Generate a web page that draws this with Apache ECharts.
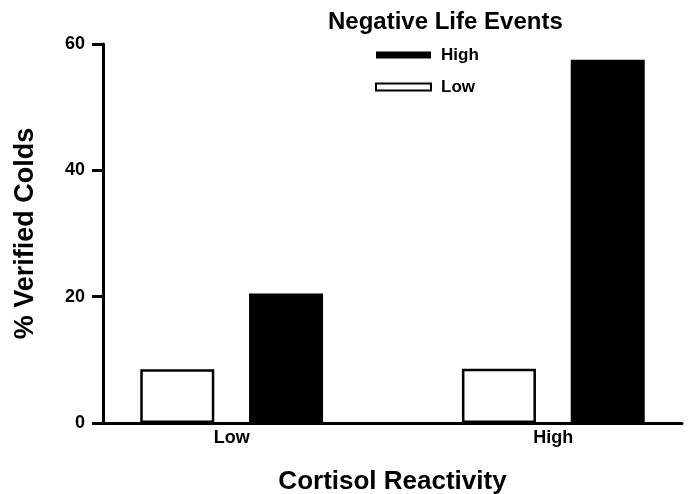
<!DOCTYPE html>
<html>
<head>
<meta charset="utf-8">
<title>Negative Life Events</title>
<script src="https://cdn.jsdelivr.net/npm/echarts@6/dist/echarts.min.js"></script>
<style>
  html, body { margin: 0; padding: 0; background: #fff; }
  #chart { width: 688px; height: 494px; }
</style>
</head>
<body>
<div id="chart"></div>
<script>
// categories sit at x = 1 and x = 2 on a value axis so the bars can be off-centre
const categories = ['Low', 'High']
const categoryPos = [1, 2]
const lowEvents = [8.5, 8.6]
const highEvents = [20.5, 57.5]
const yTicks = [0, 20, 40, 60]

const font = '"Liberation Sans", Arial, Helvetica, sans-serif'
const chart = echarts.init(document.getElementById('chart'))

const toPoints = vals => vals.map((v, i) => [categoryPos[i], v])

chart.setOption({
  animation: false,
  textStyle: { fontFamily: font, color: '#000' },
  title: {
    text: 'Negative Life Events',
    left: 328,
    top: 10,
    padding: 0,
    textStyle: { fontSize: 24, fontWeight: 'bold', color: '#000', fontFamily: font }
  },
  legend: {
    data: ['High', 'Low'],
    orient: 'vertical',
    left: 375,
    top: 45,
    padding: 0,
    itemWidth: 55,
    itemHeight: 7,
    itemGap: 12,
    icon: 'rect',
    textStyle: { fontSize: 17, fontWeight: 'bold', color: '#000', lineHeight: 20, padding: [0, 0, 0, 5] }
  },
  grid: { left: 103, right: 6, top: 44, bottom: 71, outerBoundsMode: 'none' },
  xAxis: {
    type: 'value',
    min: 0.6,
    max: 2.4,
    name: 'Cortisol Reactivity',
    nameLocation: 'middle',
    nameGap: 46,
    nameTextStyle: { fontSize: 26, fontWeight: 'bold', color: '#000' },
    axisLine: { show: true, lineStyle: { color: '#000', width: 3 } },
    axisTick: { show: false },
    splitLine: { show: false },
    axisLabel: {
      customValues: categoryPos,
      margin: 6,
      fontSize: 18,
      fontWeight: 'bold',
      color: '#000',
      formatter: v => categories[categoryPos.indexOf(v)] || ''
    }
  },
  yAxis: {
    type: 'value',
    min: yTicks[0],
    max: yTicks[yTicks.length - 1],
    interval: 20,
    name: '% Verified Colds',
    nameLocation: 'middle',
    nameGap: 64,
    nameTextStyle: { fontSize: 27, fontWeight: 'bold', color: '#000' },
    axisLine: { show: true, lineStyle: { color: '#000', width: 3 } },
    axisTick: { show: true, length: 11, lineStyle: { color: '#000', width: 3 } },
    splitLine: { show: false },
    axisLabel: { margin: 18, fontSize: 18, fontWeight: 'bold', color: '#000' }
  },
  series: [
    {
      name: 'Low',
      type: 'bar',
      data: toPoints(lowEvents),
      barWidth: 74,
      barGap: '47%',
      itemStyle: { color: '#fff', borderColor: '#000', borderWidth: 2.5 }
    },
    {
      name: 'High',
      type: 'bar',
      data: toPoints(highEvents),
      barWidth: 74,
      barGap: '47%',
      itemStyle: { color: '#000', borderColor: '#000', borderWidth: 0 }
    }
  ]
})
</script>
</body>
</html>
